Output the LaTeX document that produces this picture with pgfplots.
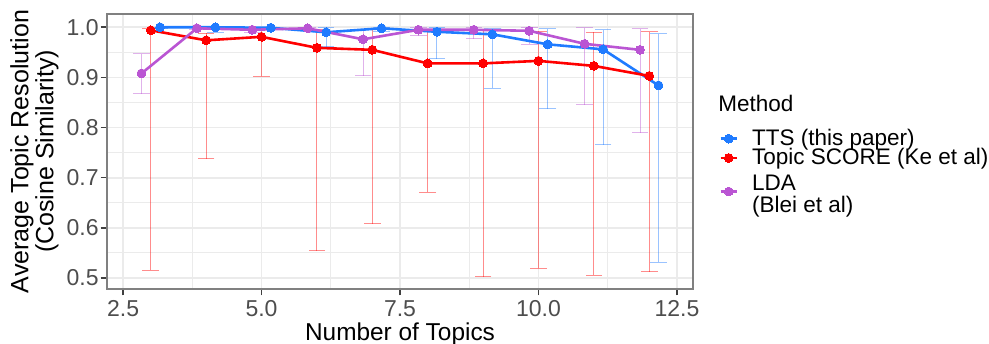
\documentclass[border=0pt]{standalone}
\usepackage{pgfplots}
\pgfplotsset{compat=1.18}
\usepackage{pgfplotstable}
\usepackage{fontspec}
\setmainfont{Liberation Sans}

\definecolor{ttsblue}{HTML}{1F7BFF}
\definecolor{tsred}{HTML}{FF0000}
\definecolor{ldapurple}{HTML}{BA55D3}
\definecolor{gridgray}{HTML}{EBEBEB}
\definecolor{tickgray}{HTML}{4D4D4D}

% n: number of topics, y: mean resolution, hi/lo: interval bounds
\pgfplotstableread{
n   y      hi     lo
3   1.000  1.000  0.997
4   1.000  1.000  0.990
5   0.999  1.000  0.996
6   0.990  0.999  0.961
7   0.998  1.000  0.991
8   0.991  0.999  0.937
9   0.986  0.997  0.878
10  0.966  0.997  0.838
11  0.956  0.995  0.766
12  0.884  0.987  0.531
}\ttsdata

\pgfplotstableread{
n   y      hi     lo
3   0.994  0.997  0.515
4   0.974  0.988  0.738
5   0.981  0.996  0.902
6   0.959  0.996  0.554
7   0.955  0.996  0.608
8   0.928  0.996  0.671
9   0.928  0.995  0.502
10  0.933  0.992  0.519
11  0.923  0.990  0.505
12  0.903  0.991  0.512
}\tsdata

\pgfplotstableread{
n   y      hi     lo
3   0.908  0.947  0.867
4   0.998  1.000  0.995
5   0.995  0.999  0.990
6   0.998  1.000  0.995
7   0.976  0.996  0.903
8   0.995  0.999  0.983
9   0.995  1.000  0.977
10  0.993  0.999  0.966
11  0.967  0.999  0.845
12  0.955  0.997  0.790
}\ldadata

\pgfplotsset{
  errbars/.style={forget plot, only marks, mark=none,
    error bars/.cd, y dir=both, y explicit,
    error bar style={line width=0.5pt, draw opacity=0.45},
    error mark options={rotate=90, line width=0.5pt, mark size=4.15pt, draw opacity=0.45}},
  series/.style={line width=1.3pt, mark=*, mark size=2.2pt, mark options={solid, line width=0pt}},
}

\begin{document}
\begin{tikzpicture}
\path[use as bounding box] (-53.5pt,-27pt) rectangle (441pt,144.5pt);
\begin{axis}[
  scale only axis, width=293pt, height=137.5pt,
  xmin=2.21, xmax=12.79, ymin=0.478, ymax=1.0265,
  xtick={2.5,5,7.5,10,12.5}, xticklabels={2.5,5.0,7.5,10.0,12.5},
  ytick={0.5,0.6,0.7,0.8,0.9,1.0}, yticklabels={0.5,0.6,0.7,0.8,0.9,1.0},
  minor xtick={3.75,6.25,8.75,11.25},
  minor ytick={0.55,0.65,0.75,0.85,0.95},
  grid=both,
  major grid style={gridgray, line width=0.9pt},
  minor grid style={gridgray, line width=0.5pt},
  minor tick length=0pt,
  major tick length=3.2pt,
  tick align=outside, tick pos=left,
  tick style={black!75, line width=0.8pt},
  axis line style={black!50, line width=0.9pt},
  ticklabel style={font=\fontsize{11.5}{13}\selectfont, text=tickgray, inner sep=0pt},
  xticklabel style={anchor=north, yshift=-2.3pt},
  yticklabel style={anchor=east, xshift=-0.8pt},
  xlabel={Number of Topics},
  ylabel={Average Topic Resolution\\(Cosine Similarity)},
  xlabel style={at={(axis description cs:0.5,-0.188)}, anchor=base, inner sep=0pt, font=\fontsize{12.2}{14}\selectfont},
  ylabel style={at={(axis description cs:-0.1237,0.5)}, anchor=center, align=center, inner sep=0pt, font=\fontsize{12.5}{12.5}\selectfont},
  legend style={at={(axis description cs:1.0444,0.5832)}, anchor=north west, draw=none, fill=none, inner sep=0pt, row sep=0pt, column sep=7pt,
    nodes={inner sep=0pt, align=left, font=\fontsize{11.25}{11}\selectfont}},
  legend cell align=left,
  legend image code/.code={\draw[mark repeat=2, mark phase=2] plot coordinates {(0pt,0pt) (4pt,0pt) (8pt,0pt)};},
]
% interval bars, drawn beneath the lines
\addplot[ttsblue, errbars] table[x expr=\thisrow{n}+0.1667, y=y,
  y error plus expr=\thisrow{hi}-\thisrow{y}, y error minus expr=\thisrow{y}-\thisrow{lo}] {\ttsdata};
\addplot[tsred, errbars] table[x=n, y=y,
  y error plus expr=\thisrow{hi}-\thisrow{y}, y error minus expr=\thisrow{y}-\thisrow{lo}] {\tsdata};
\addplot[ldapurple, errbars] table[x expr=\thisrow{n}-0.1667, y=y,
  y error plus expr=\thisrow{hi}-\thisrow{y}, y error minus expr=\thisrow{y}-\thisrow{lo}] {\ldadata};

% mean resolution per method
\addplot[ttsblue, series] table[x expr=\thisrow{n}+0.1667, y=y] {\ttsdata};
\addlegendentry{TTS (this paper)}
\addplot[tsred, series] table[x=n, y=y] {\tsdata};
\addlegendentry{Topic SCORE (Ke et al)}
\addplot[ldapurple, series] table[x expr=\thisrow{n}-0.1667, y=y] {\ldadata};
\addlegendentry{\rule{0pt}{11.4pt}LDA\\(Blei et al)}
\end{axis}
\node[anchor=base west, inner sep=0pt, font=\fontsize{11.25}{13}\selectfont] at (305.5pt,88.65pt) {Method};
\end{tikzpicture}
\end{document}
